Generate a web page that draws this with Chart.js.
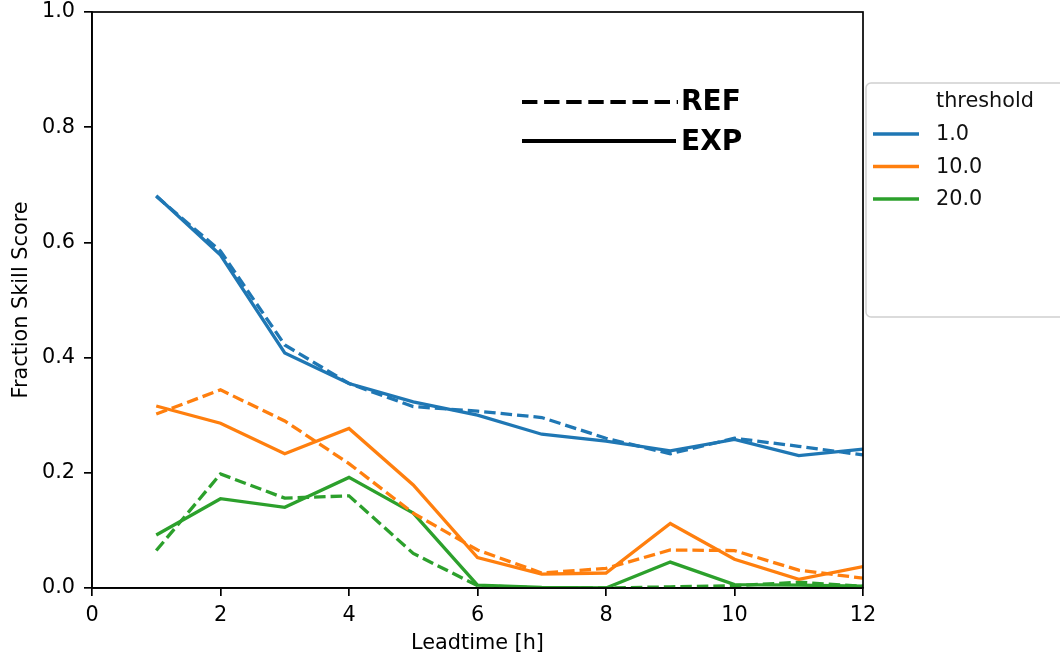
<!DOCTYPE html>
<html>
<head>
<meta charset="utf-8">
<script src="https://cdn.jsdelivr.net/npm/chart.js@4"></script>
<style>
  html, body { margin: 0; padding: 0; background: #fff; }
  #wrap { width: 1060px; height: 656px; position: relative; }
</style>
</head>
<body>
<div id="wrap"><canvas id="chart"></canvas></div>
<script>
const leadtimes = [1, 2, 3, 4, 5, 6, 7, 8, 9, 10, 11, 12];
const thresholds = ["1.0", "10.0", "20.0"];
const colors = ["#1f77b4", "#ff7f0e", "#2ca02c"];

// EXP (solid)
const exp1 = [0.681, 0.578, 0.408, 0.355, 0.323, 0.300, 0.267, 0.255, 0.238, 0.258, 0.230, 0.241];
const exp10 = [0.316, 0.286, 0.233, 0.277, 0.179, 0.053, 0.024, 0.026, 0.112, 0.050, 0.015, 0.037];
const exp20 = [0.092, 0.155, 0.140, 0.192, 0.130, 0.005, 0.001, 0.000, 0.045, 0.006, 0.005, 0.003];

// REF (dashed)
const ref1 = [0.680, 0.585, 0.422, 0.355, 0.315, 0.307, 0.296, 0.260, 0.233, 0.260, 0.246, 0.231];
const ref10 = [0.302, 0.344, 0.290, 0.216, 0.130, 0.066, 0.026, 0.034, 0.066, 0.065, 0.031, 0.017];
const ref20 = [0.065, 0.198, 0.156, 0.160, 0.060, 0.004, 0.000, 0.000, 0.002, 0.004, 0.010, 0.003];

const yTicks = [0, 0.2, 0.4, 0.6, 0.8, 1.0];
const xTicks = [0, 2, 4, 6, 8, 10, 12];

const toPts = (vals) => vals.map((v, i) => ({ x: leadtimes[i], y: v }));

const expSeries = [exp1, exp10, exp20];
const refSeries = [ref1, ref10, ref20];

const LINE_W = 3.3;

const datasets = [];
thresholds.forEach((t, i) => {
  datasets.push({
    label: `REF ${t}`,
    data: toPts(refSeries[i]),
    borderColor: colors[i],
    borderWidth: LINE_W,
    borderDash: [11.5, 5],
    pointRadius: 0,
    tension: 0,
    fill: false,
  });
  datasets.push({
    label: `EXP ${t}`,
    data: toPts(expSeries[i]),
    borderColor: colors[i],
    borderWidth: LINE_W,
    pointRadius: 0,
    tension: 0,
    fill: false,
  });
});

const FONT = "DejaVu Sans";

const decorPlugin = {
  id: "decor",
  afterDraw(chart) {
    const { ctx, chartArea: a } = chart;
    ctx.save();

    // full axes box
    ctx.strokeStyle = "#000";
    ctx.lineWidth = 1.7;
    ctx.strokeRect(a.left, a.top, a.right - a.left, a.bottom - a.top);

    // REF / EXP annotation
    ctx.lineWidth = 4.2;
    ctx.lineCap = "butt";
    ctx.setLineDash([15.4, 6.7]);
    ctx.beginPath();
    ctx.moveTo(522, 102);
    ctx.lineTo(678, 102);
    ctx.stroke();
    ctx.setLineDash([]);
    ctx.beginPath();
    ctx.moveTo(522, 141);
    ctx.lineTo(676, 141);
    ctx.stroke();
    ctx.fillStyle = "#000";
    ctx.font = `bold 28px "${FONT}"`;
    ctx.textBaseline = "middle";
    ctx.textAlign = "left";
    ctx.fillText("REF", 681, 103);
    ctx.fillText("EXP", 681, 143);

    // legend box
    const bx = 866, by = 83, bw = 210, bh = 234, r = 5;
    ctx.beginPath();
    ctx.moveTo(bx + r, by);
    ctx.lineTo(bx + bw - r, by);
    ctx.arcTo(bx + bw, by, bx + bw, by + r, r);
    ctx.lineTo(bx + bw, by + bh - r);
    ctx.arcTo(bx + bw, by + bh, bx + bw - r, by + bh, r);
    ctx.lineTo(bx + r, by + bh);
    ctx.arcTo(bx, by + bh, bx, by + bh - r, r);
    ctx.lineTo(bx, by + r);
    ctx.arcTo(bx, by, bx + r, by, r);
    ctx.closePath();
    ctx.fillStyle = "rgba(255,255,255,0.8)";
    ctx.fill();
    ctx.strokeStyle = "#d0d0d0";
    ctx.lineWidth = 1.5;
    ctx.stroke();

    ctx.font = `20.8px "${FONT}"`;
    ctx.fillStyle = "#111";
    ctx.fillText("threshold", 936, 102);
    thresholds.forEach((t, i) => {
      const y = 134 + i * 32.5;
      ctx.strokeStyle = colors[i];
      ctx.lineWidth = LINE_W;
      ctx.beginPath();
      ctx.moveTo(873, y);
      ctx.lineTo(919, y);
      ctx.stroke();
      ctx.fillStyle = "#111";
      ctx.fillText(t, 936, y + 1);
    });

    ctx.restore();
  },
};

new Chart(document.getElementById("chart"), {
  type: "line",
  data: { datasets },
  options: {
    responsive: true,
    maintainAspectRatio: false,
    animation: false,
    events: [],
    layout: { padding: { left: 0, right: 197, top: 12, bottom: 0 } },
    plugins: {
      legend: { display: false },
      tooltip: { enabled: false },
    },
    scales: {
      x: {
        type: "linear",
        min: 0,
        max: 12,
        afterFit: (scale) => {
          scale.height = 68;
          scale.paddingLeft = 0;
          scale.paddingRight = 0;
        },
        afterBuildTicks: (scale) => { scale.ticks = xTicks.map((v) => ({ value: v })); },
        grid: {
          drawOnChartArea: false,
          drawTicks: true,
          tickLength: 8,
          color: "#000",
          lineWidth: 1.7,
        },
        border: { display: true, color: "#000", width: 1.7 },
        ticks: {
          color: "#000",
          font: { family: FONT, size: 20.8 },
          padding: 7,
          maxRotation: 0,
          callback: (v) => String(v),
        },
        title: {
          display: true,
          text: "Leadtime [h]",
          color: "#000",
          font: { family: FONT, size: 20.8 },
          padding: 0,
        },
      },
      y: {
        type: "linear",
        min: 0,
        max: 1,
        afterFit: (scale) => {
          scale.width = 92;
          scale.paddingTop = 0;
          scale.paddingBottom = 0;
        },
        afterBuildTicks: (scale) => { scale.ticks = yTicks.map((v) => ({ value: v })); },
        grid: {
          drawOnChartArea: false,
          drawTicks: true,
          tickLength: 8,
          color: "#000",
          lineWidth: 1.7,
        },
        border: { display: true, color: "#000", width: 1.7 },
        ticks: {
          color: "#000",
          font: { family: FONT, size: 20.8 },
          padding: 9,
          callback: (v) => Number(v).toFixed(1),
        },
        title: {
          display: true,
          text: "Fraction Skill Score",
          color: "#000",
          font: { family: FONT, size: 20.8 },
          padding: 9,
        },
      },
    },
  },
  plugins: [decorPlugin],
});
</script>
</body>
</html>
